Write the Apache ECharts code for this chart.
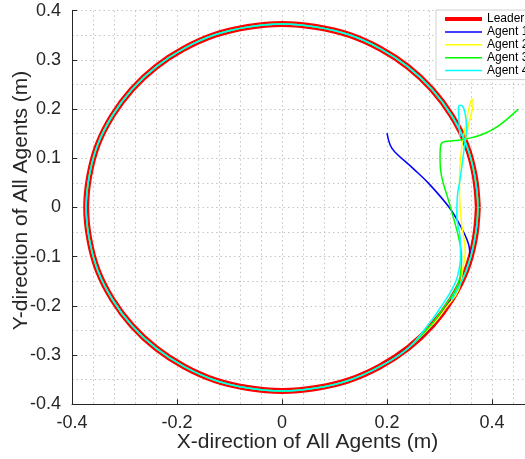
<!DOCTYPE html>
<html>
<head>
<meta charset="utf-8">
<title>Leader / Agents</title>
<script src="https://cdn.jsdelivr.net/npm/echarts@6/dist/echarts.min.js"></script>
<style>
  html, body { margin: 0; padding: 0; background: #fff; }
  #main { width: 525px; height: 459px; }
</style>
</head>
<body>
<div id="main"></div>
<script>
  // leader path, every 10 deg, clockwise from (0.373, 0)
  var leader = [
    [0.373, 0], [0.367, -0.065], [0.351, -0.128], [0.323, -0.187], [0.286, -0.240],
    [0.240, -0.286], [0.187, -0.323], [0.128, -0.351], [0.065, -0.367], [0, -0.373],
    [-0.065, -0.367], [-0.128, -0.351], [-0.187, -0.323], [-0.240, -0.286], [-0.286, -0.240],
    [-0.323, -0.187], [-0.351, -0.128], [-0.367, -0.065], [-0.373, 0], [-0.367, 0.065],
    [-0.351, 0.128], [-0.323, 0.187], [-0.286, 0.240], [-0.240, 0.286], [-0.187, 0.323],
    [-0.128, 0.351], [-0.065, 0.367], [0, 0.373], [0.065, 0.367], [0.128, 0.351],
    [0.187, 0.323], [0.240, 0.286], [0.286, 0.240], [0.323, 0.187], [0.351, 0.128],
    [0.367, 0.065], [0.373, 0]
  ];

  // start of each agent until it reaches the circle
  var agent1Start = [
    [0.200, 0.151], [0.206, 0.127], [0.215, 0.113], [0.250, 0.079], [0.282, 0.046],
    [0.320, -0.002], [0.339, -0.036], [0.355, -0.073], [0.358, -0.100], [0.345, -0.141],
    [0.333, -0.168]
  ];
  var agent2Start = [
    [0.350, 0.137], [0.354, 0.162], [0.359, 0.184], [0.364, 0.210], [0.362, 0.220],
    [0.360, 0.216], [0.355, 0.198], [0.350, 0.168], [0.343, 0.127], [0.339, 0.086],
    [0.338, 0.046], [0.339, 0.005], [0.342, -0.032], [0.349, -0.092], [0.345, -0.120],
    [0.336, -0.168], [0.315, -0.200], [0.292, -0.232]
  ];
  var agent3Start = [
    [0.450, 0.200], [0.415, 0.168], [0.387, 0.151], [0.358, 0.141], [0.330, 0.136],
    [0.310, 0.134], [0.302, 0.125], [0.301, 0.097], [0.304, 0.063], [0.317, 0.015],
    [0.326, -0.019], [0.336, -0.059], [0.342, -0.100], [0.339, -0.141], [0.330, -0.168],
    [0.310, -0.200], [0.288, -0.233]
  ];
  var agent4Start = [
    [0.339, 0.143], [0.337, 0.178], [0.336, 0.204], [0.340, 0.208], [0.346, 0.202],
    [0.350, 0.182], [0.352, 0.162], [0.349, 0.137], [0.345, 0.103], [0.339, 0.056],
    [0.334, 0.022], [0.333, -0.019], [0.339, -0.059], [0.340, -0.100], [0.334, -0.141],
    [0.323, -0.168], [0.304, -0.200], [0.283, -0.232]
  ];

  var names = ['Leader', 'Agent 1', 'Agent 2', 'Agent 3', 'Agent 4'];
  var colors = ['#ff0000', '#0000ff', '#ffff00', '#00ff00', '#00ffff'];
  var xTicks = [-0.4, 0.6, 0.2];   // min, max, step
  var yTicks = [-0.4, 0.4, 0.1];

  // after joining, the agents run round the leader circle once more
  var agent1 = agent1Start.concat(leader.slice(3), leader.slice(1, 3));
  var agent2 = agent2Start.concat(leader.slice(5), leader.slice(1, 4));
  var agent3 = agent3Start.concat(leader.slice(5), leader.slice(1, 4));
  var agent4 = agent4Start.concat(leader.slice(5), leader.slice(1, 4));
  var paths = [leader, agent1, agent2, agent3, agent4];

  var ink = '#262626';
  var gridDots = { color: '#c4c4c4', width: 1, type: [1.5, 3] };

  var chart = echarts.init(document.getElementById('main'));
  chart.setOption({
    animation: false,
    textStyle: { fontFamily: 'Liberation Sans, Arial, sans-serif' },
    // plot runs past the right edge (x up to 0.6), like the cropped figure
    grid: { left: 72, right: -72, top: 10.7, bottom: 54.7, containLabel: false, outerBoundsMode: 'none' },
    legend: {
      orient: 'vertical',
      left: 436,
      top: 10,
      data: names.map(function (n, i) {
        return { name: n, lineStyle: { width: i === 0 ? 4 : 1.5 } };
      }),
      itemWidth: 37,
      itemHeight: 12,
      itemGap: 0.9,
      itemStyle: { opacity: 0 },
      padding: [3, 8, 3, 7],
      backgroundColor: '#fff',
      borderColor: '#d0d0d0',
      borderWidth: 1,
      textStyle: { fontSize: 12, lineHeight: 12, color: '#000' }
    },
    xAxis: {
      type: 'value',
      min: xTicks[0],
      max: xTicks[1],
      interval: xTicks[2],
      name: 'X-direction of All Agents (m)',
      nameLocation: 'middle',
      nameGap: 27,
      nameMoveOverlap: false,
      nameTextStyle: { fontSize: 21, color: ink, padding: [0, 54, 0, 0] },
      axisLine: { onZero: false, lineStyle: { color: ink, width: 1 } },
      axisTick: { inside: true, length: 5, lineStyle: { color: ink } },
      axisLabel: { fontSize: 18, color: ink, margin: 10 },
      splitLine: { show: true, lineStyle: gridDots },
      minorTick: { show: false, splitNumber: 5 },
      minorSplitLine: { show: true, lineStyle: gridDots }
    },
    yAxis: {
      type: 'value',
      min: yTicks[0],
      max: yTicks[1],
      interval: yTicks[2],
      name: 'Y-direction of All Agents (m)',
      nameLocation: 'middle',
      nameGap: 40,
      nameMoveOverlap: false,
      nameTextStyle: { fontSize: 21, color: ink, padding: [0, 0, 0, 14] },
      axisLine: { show: true, onZero: false, lineStyle: { color: ink, width: 1 } },
      axisTick: { show: true, inside: true, length: 5, lineStyle: { color: ink } },
      axisLabel: { fontSize: 18, color: ink, margin: 11 },
      splitLine: { show: true, lineStyle: gridDots },
      minorTick: { show: false, splitNumber: 2 },
      minorSplitLine: { show: true, lineStyle: gridDots }
    },
    series: paths.map(function (p, i) {
      return {
        name: names[i],
        type: 'line',
        data: p,
        smooth: 0.4,
        symbol: 'none',
        showSymbol: false,
        color: colors[i],
        lineStyle: { color: colors[i], width: i === 0 ? 6 : 1.5 },
        z: 2 + i
      };
    })
  });
</script>
</body>
</html>
